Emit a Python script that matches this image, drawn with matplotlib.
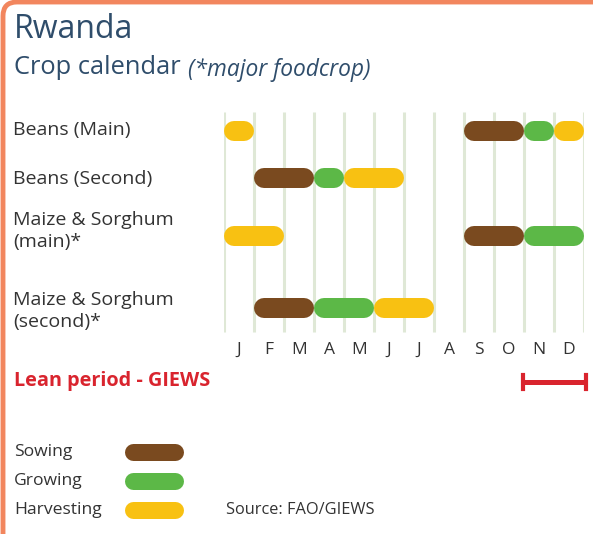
"""Rwanda crop calendar (FAO/GIEWS style) redrawn with matplotlib."""
import matplotlib

matplotlib.use("Agg")
import matplotlib.pyplot as plt
from matplotlib.patches import FancyBboxPatch

W, H, DPI = 593, 534, 100

MONTHS = ["J", "F", "M", "A", "M", "J", "J", "A", "S", "O", "N", "D"]
CROPS = ["Beans (Main)", "Beans (Second)", "Maize & Sorghum\n(main)*", "Maize & Sorghum\n(second)*"]

# (start month index, end month index exclusive, stage) per crop
BEANS_MAIN = [(0, 1, "harvest"), (8, 10, "sow"), (10, 11, "grow"), (11, 12, "harvest")]
BEANS_SECOND = [(1, 3, "sow"), (3, 4, "grow"), (4, 6, "harvest")]
MAIZE_MAIN = [(0, 2, "harvest"), (8, 10, "sow"), (10, 12, "grow")]
MAIZE_SECOND = [(1, 3, "sow"), (3, 5, "grow"), (5, 7, "harvest")]
SEGMENTS = [BEANS_MAIN, BEANS_SECOND, MAIZE_MAIN, MAIZE_SECOND]

LEAN_PERIOD = (10, 12)  # Nov-Dec

STAGE_COLORS = {"sow": "#7a4a1f", "grow": "#5cb847", "harvest": "#f8c112"}
LEGEND = [("Sowing", "sow"), ("Growing", "grow"), ("Harvesting", "harvest")]

# layout, in pixels (y downwards)
ROW_Y = [131, 178, 236, 308]
LABEL_Y = [130, 179, 231, 311]
BAR_PX = 20
MONTH_PX = 30
X0_PX = 224

plt.rcParams["font.family"] = ["Open Sans", "DejaVu Sans"]
fig = plt.figure(figsize=(W / DPI, H / DPI), dpi=DPI)

# background axes in pixel units for text and frame
bg = fig.add_axes([0, 0, 1, 1])
bg.set_xlim(0, W)
bg.set_ylim(H, 0)
bg.axis("off")
bg.add_patch(FancyBboxPatch((3, 2), W + 20, H + 20, boxstyle="round,pad=0,rounding_size=14",
                            fc="white", ec="#f2865e", lw=3.5))

# chart axes: x in months, y in pixels
ax = fig.add_axes([X0_PX / W, 0, 12 * MONTH_PX / W, 1])
ax.set_xlim(0, 12)
ax.set_ylim(H, 0)
ax.axis("off")

for i in range(13):
    ax.plot([i, i], [112, 332], color="#dfe8d6", lw=2.2, zorder=1, solid_capstyle="butt")

cap = (BAR_PX / 2) / MONTH_PX  # round cap radius, in months
lw_pt = BAR_PX * 72 / DPI
for y, segs in zip(ROW_Y, SEGMENTS):
    for start, end, stage in segs:
        ax.plot([start + cap, end - cap], [y, y], color=STAGE_COLORS[stage], lw=lw_pt,
                solid_capstyle="round", zorder=2)

for i, m in enumerate(MONTHS):
    ax.text(i + 0.5, 350, m, ha="center", va="center", fontsize=12.5, color="#333333")

# lean period bar
lean_y = 382
ax.plot([LEAN_PERIOD[0] - 0.05, LEAN_PERIOD[1] + 0.05], [lean_y, lean_y], color="#d9242e",
        lw=3.6, solid_capstyle="butt")
for xe in (LEAN_PERIOD[0] - 0.05, LEAN_PERIOD[1] + 0.05):
    ax.plot([xe, xe], [lean_y - 7, lean_y + 7], color="#d9242e", lw=3, clip_on=False)

# text
bg.text(14, 30, "Rwanda", fontsize=23, color="#2f4d6b", va="center", ha="left")
bg.text(14, 68, "Crop calendar", fontsize=18.4, color="#2f4d6b", va="center", ha="left")
bg.text(188, 70, "(*major foodcrop)", fontsize=16.4, color="#2f4d6b", va="center", ha="left",
        style="italic")
for y, name in zip(LABEL_Y, CROPS):
    bg.text(13, y, name, fontsize=14, color="#333333", va="center", ha="left", linespacing=1.25)

bg.text(14, 381, "Lean period - GIEWS", fontsize=14.3, color="#d9242e", fontweight="bold",
        va="center", ha="left")

for k, (label, stage) in enumerate(LEGEND):
    y = 452 + 29 * k
    bg.text(14, y, label, fontsize=12.6, color="#333333", va="center", ha="left")
    bg.plot([133, 175], [y, y], color=STAGE_COLORS[stage], lw=17 * 72 / DPI,
            solid_capstyle="round")
bg.text(226, 510, "Source: FAO/GIEWS", fontsize=11.8, color="#333333", va="center", ha="left")

fig.savefig("out.png", dpi=DPI)
